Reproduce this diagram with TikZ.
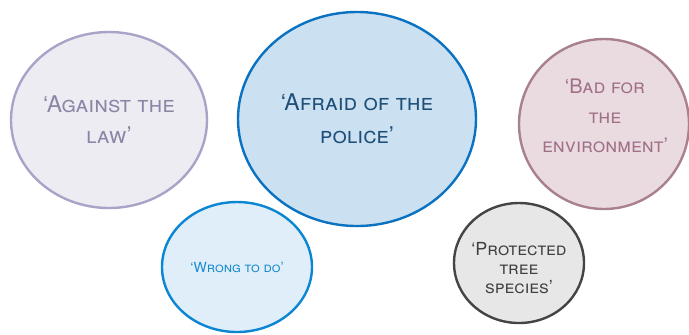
\documentclass[tikz,border=0pt]{standalone}
\usepackage{fontspec}
\setmainfont{TeX Gyre Heros}
\usetikzlibrary{shapes.geometric}

\definecolor{lawfill}{HTML}{EEECF3}
\definecolor{lawline}{HTML}{A9A3C8}
\definecolor{lawtext}{HTML}{8C86A6}
\definecolor{policefill}{HTML}{CBE0F1}
\definecolor{policeline}{HTML}{0B72C2}
\definecolor{policetext}{HTML}{1D4F78}
\definecolor{envfill}{HTML}{EADBE1}
\definecolor{envline}{HTML}{A8808F}
\definecolor{envtext}{HTML}{A07088}
\definecolor{wrongfill}{HTML}{DFEEF8}
\definecolor{wrongline}{HTML}{0A86D2}
\definecolor{wrongtext}{HTML}{1A8AD0}
\definecolor{treefill}{HTML}{E7E7E7}
\definecolor{treeline}{HTML}{444444}
\definecolor{treetext}{HTML}{404040}

\begin{document}
\begin{tikzpicture}[x=0.5pt, y=-0.5pt,
    bubble/.style={ellipse, draw, line width=1.2pt, inner sep=0pt, align=center}]
        \useasboundingbox (0,0) rectangle (689,334);
        % big ones first
        \node[bubble, fill=lawfill, draw=lawline, text=lawtext, minimum width=98pt, minimum height=88pt,
              font=\fontsize{11.5}{15.5}\selectfont\scshape] (law) at (109,120) {‘Against the\\law’};
        \node[bubble, fill=policefill, draw=policeline, text=policetext, minimum width=119pt, minimum height=107pt,
              font=\fontsize{11.5}{16.5}\selectfont\scshape] (police) at (357,119) {‘Afraid of the\\police’};
        \node[bubble, fill=envfill, draw=envline, minimum width=85pt, minimum height=85pt] (env) at (604,124) {};
        \node[align=center, text=envtext, font=\fontsize{10}{14.8}\selectfont\scshape] (envlabel) at (605,116)
              {‘Bad for\\the\\environment’};
        % small ones
        \node[bubble, fill=wrongfill, draw=wrongline, text=wrongtext, minimum width=75pt, minimum height=65pt,
              font=\fontsize{7}{9}\selectfont\scshape] (wrong) at (237,267) {‘Wrong to do’};
        \node[bubble, fill=treefill, draw=treeline, minimum width=65pt, minimum height=60pt] (tree) at (519,263) {};
        \node[align=center, text=treetext, font=\fontsize{9}{9.5}\selectfont\scshape] (treelabel) at (519,268)
              {‘Protected\\tree\\species’};
      \end{tikzpicture}
\end{document}
